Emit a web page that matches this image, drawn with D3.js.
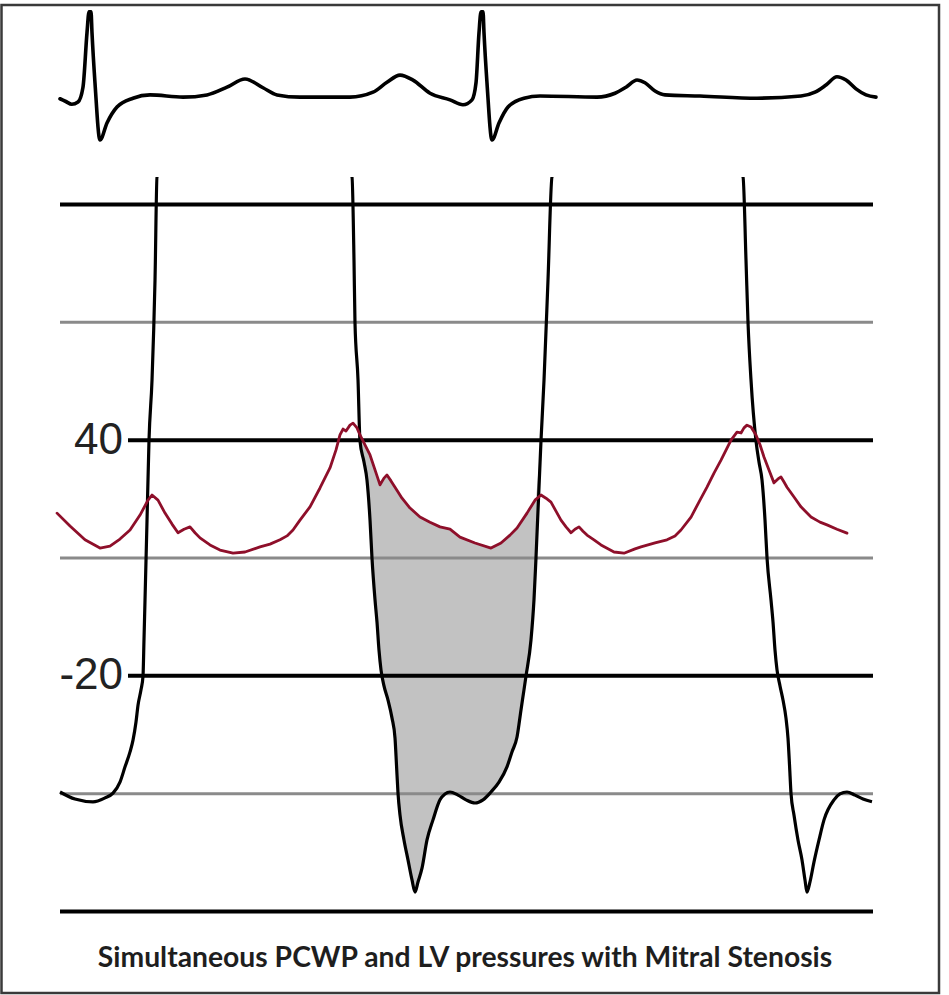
<!DOCTYPE html>
<html><head><meta charset="utf-8">
<script src="https://cdn.jsdelivr.net/npm/d3@7"></script>
<style>body{margin:0;background:#fff}</style>
</head><body><svg id="c" width="949" height="995"></svg>
<script>
// ---- data (time in ms, pressure in mmHg, ECG in mV) ----
const gridValues = [100, 70, 40, 10, -20, -50, -80];
const tickValues = [40, -20];
const tickLabels = ["40", "-20"];
const title = "Simultaneous PCWP and LV pressures with Mitral Stenosis";

const ecg = [
  [0,-0.05],[12,-0.1],[24,-0.15],[36.7,-0.11],[46.9,0.16],[55.1,1.15],[59.2,1.53],[63.3,1.53],[65.3,1.15],
  [71.4,0.24],[81.6,-0.8],[95.9,-0.49],[116.3,-0.2],[149,-0.04],[183.7,0.02],[251,-0.02],[300,0.02],
  [340.8,0.16],[377.6,0.31],[414.3,0.15],[442.9,0.02],[489.8,-0.02],[591.8,-0.02],[638.8,0.07],
  [667.3,0.25],[693.9,0.38],[720.4,0.29],[755.1,0.05],[795.9,-0.07],[822.4,-0.16],[840.8,-0.07],
  [849,0.24],[855.1,1.15],[859.2,1.53],[863.3,1.53],[865.3,1.15],[871.4,0.24],[881.6,-0.8],
  [895.9,-0.49],[914.3,-0.2],[946.9,-0.04],[979.6,0],[1095.9,-0.02],[1132.7,0.05],[1155.1,0.16],
  [1177.6,0.29],[1193.9,0.24],[1214.3,0.09],[1234.7,0.02],[1306.1,0],[1422.4,-0.04],[1512.2,0],
  [1540.8,0.07],[1563.3,0.2],[1585.7,0.35],[1604.1,0.29],[1624.5,0.13],[1644.9,0.02],[1665.3,-0.02]
];

const lv = [
  [0,-49.7],[30.6,-51.5],[67.3,-52.2],[91.8,-51.2],[108.2,-50],[122.4,-47.2],[132.7,-43.3],[142.9,-39.5],
  [149,-36.5],[155.1,-31.9],[159.2,-27.6],[165.3,-23.7],[169.4,-20.2],[171.4,-11],[173.5,-0.8],
  [177.6,19.5],[181.6,39.7],[187.8,55.2],[193.9,80.6],[198,106.9],[398,135],
  [595.9,106.9],[600,85.7],[602,69.9],[608.2,55.2],[612.2,39.7],[620.4,34.3],[626.5,29.7],[632.7,19.5],
  [636.7,9.9],[642.9,-0.8],[646.9,-6.4],[651,-13.6],[655.1,-18.6],[661.2,-22.7],[669.4,-26.3],
  [677.6,-30.9],[683.7,-36],[686.7,-42.8],[689.8,-50],[693.9,-55.6],[702,-61.9],[710.2,-67],[718.4,-72.1],
  [724.5,-75.2],[730.6,-72.6],[738.8,-69.1],[749,-61.9],[761.2,-56.8],[775.5,-51.7],[785.7,-50.2],
  [795.9,-49.7],[812.2,-50.5],[828.6,-51.7],[846.9,-52.5],[863.3,-51.7],[879.6,-49.7],[895.9,-47.2],
  [912.2,-43.3],[922.4,-39.5],[932.7,-35.7],[940.8,-28.8],[946.9,-23.7],[951,-20.2],[961.2,-11],
  [967.3,-0.8],[971.4,9.9],[981.6,39.7],[987.8,55.2],[995.9,80.6],[1004.1,106.9],[1200,135],
  [1393.9,106.9],[1400,85.7],[1404.1,69.9],[1410.2,55.2],[1420.4,39.7],[1426.5,34.3],[1432.7,29.7],
  [1438.8,19.5],[1442.9,9.9],[1451,-0.8],[1455.1,-6.4],[1459.2,-13.6],[1463.3,-18.6],[1469.4,-22.7],
  [1475.5,-26.3],[1481.6,-30.9],[1485.7,-36],[1488.8,-42.8],[1491.8,-50],[1498,-55.6],[1506.1,-61.9],
  [1514.3,-67],[1520.4,-72.1],[1524.5,-75.2],[1530.6,-72.6],[1538.8,-67.5],[1549,-61.9],[1559.2,-56.8],
  [1579.6,-51.7],[1591.8,-50.2],[1606.1,-49.7],[1622.4,-50.5],[1638.8,-51.5],[1657.1,-52.2]
];

const pcwp = [
  [-6.1,21.3],[20.4,18.0],[51,14.5],[81.6,12.4],[102,12.9],[122.4,14.7],[142.9,17.0],[163.3,20.8],
  [179.6,24.6],[187.8,25.9],[200,24.6],[214.3,21.3],[228.6,18.5],[240.8,16.3],[253.1,17.2],[265.3,17.8],
  [275.5,16.3],[285.7,15.0],[306.1,13.2],[326.5,11.9],[353.1,11.1],[377.6,11.4],[408.2,12.7],
  [428.6,13.4],[449,14.5],[463.3,15.5],[475.5,17.0],[489.8,19.5],[510.2,22.9],[530.6,27.7],
  [551,32.8],[563.3,37.4],[571.4,41.2],[577.6,42.7],[583.7,42.2],[591.8,43.7],[598,44.2],[606.1,43.0],
  [612.2,41.2],[622.4,38.7],[632.7,36.1],[642.9,32.3],[653.1,28.5],[661.2,30.2],[667.3,31.0],
  [675.5,29.5],[683.7,27.9],[698,25.1],[714.3,22.6],[734.7,20.3],[755.1,19.0],[775.5,17.8],
  [795.9,17.2],[816.3,15.2],[846.9,13.7],[879.6,12.4],[900,13.7],[918.4,15.7],[932.7,17.5],
  [953.1,21.3],[969.4,24.6],[981.6,25.9],[991.8,25.1],[1002,24.1],[1012.2,21.8],[1022.4,19.5],
  [1032.7,17.8],[1042.9,16.3],[1051,17.2],[1059.2,17.8],[1067.3,16.7],[1075.5,15.7],[1089.8,14.5],
  [1104.1,13.2],[1130.6,11.4],[1151,11.1],[1173.5,12.2],[1185.7,12.7],[1214.3,13.7],[1238.8,14.5],
  [1255.1,15.5],[1267.3,17.0],[1287.8,20.3],[1306.1,24.6],[1320.4,27.9],[1334.7,31.5],[1349,34.8],
  [1369.4,39.9],[1381.6,41.9],[1389.8,41.7],[1395.9,43.0],[1402,43.7],[1410.2,43.2],[1420.4,41.2],
  [1428.6,38.7],[1436.7,35.6],[1446.9,32.3],[1457.1,29.0],[1465.3,30.0],[1471.4,30.5],[1477.6,29.2],
  [1483.7,27.9],[1498,25.4],[1512.2,22.9],[1532.7,20.3],[1551,19.0],[1565.3,18.3],[1585.7,17.2],
  [1606.1,16.2]
];

// ---- scales ----
const svg = d3.select("#c");
const x = d3.scaleLinear().domain([0, 1660]).range([60, 873.4]);
const y = d3.scaleLinear().domain([-80, 100]).range([911, 204]);
const ye = d3.scaleLinear().domain([0, 1]).range([96, 41]);
const left = 60, right = 873;

// frame
svg.append("rect").attr("x", 1.5).attr("y", 5).attr("width", 937.5).attr("height", 988)
  .attr("fill", "#fff").attr("stroke", "#3a3a3a").attr("stroke-width", 2.5);

// ECG
svg.append("path").datum(ecg)
  .attr("d", d3.line().x(d => x(d[0])).y(d => ye(d[1])).curve(d3.curveMonotoneX))
  .attr("fill", "none").attr("stroke", "#000").attr("stroke-width", 3.6)
  .attr("stroke-linejoin", "round").attr("stroke-linecap", "round");

// fill between PCWP and LV where LV < PCWP (diastolic gradient)
function interp(arr, t) {
  const i = d3.bisector(d => d[0]).right(arr, t);
  if (i <= 0) return arr[0][1];
  if (i >= arr.length) return arr[arr.length - 1][1];
  const a = arr[i - 1], b = arr[i];
  return a[1] + (b[1] - a[1]) * (t - a[0]) / (b[0] - a[0]);
}
const fillTimes = Array.from(new Set(
  lv.map(d => d[0]).concat(pcwp.map(d => d[0])).filter(t => t >= 600 && t <= 995)
)).sort((a, b) => a - b);
const fillData = fillTimes.map(t => {
  const l = interp(lv, t), p = interp(pcwp, t);
  return { t, lo: l, hi: Math.max(l, p) };
});
svg.append("path").datum(fillData)
  .attr("d", d3.area().x(d => x(d.t)).y0(d => y(d.lo)).y1(d => y(d.hi)).curve(d3.curveLinear))
  .attr("fill", "#c2c2c2");

// grid lines via axis
const grid = svg.append("g").attr("transform", `translate(${right},0)`)
  .call(d3.axisLeft(y).tickValues(gridValues).tickSize(right - left).tickFormat(""));
grid.select(".domain").remove();
grid.selectAll(".tick line")
  .attr("stroke", (d, i) => i % 2 === 0 ? "#000" : "#8a8a8a")
  .attr("stroke-width", (d, i) => i % 2 === 0 ? 4 : 3)
  .attr("x2", d => tickValues.includes(d) ? -(right - 128) : -(right - left));

// tick labels
tickValues.forEach((v, i) => {
  svg.append("text").attr("x", 123).attr("y", y(v) + 14)
    .attr("text-anchor", "end")
    .attr("font-family", "Liberation Sans, Arial, sans-serif")
    .attr("font-size", 44).attr("fill", "#222")
    .text(tickLabels[i]);
});

// LV pressure (clipped at top)
svg.append("clipPath").attr("id", "clipLV").append("rect")
  .attr("x", 0).attr("y", 177).attr("width", 949).attr("height", 818);
svg.append("path").datum(lv).attr("clip-path", "url(#clipLV)")
  .attr("d", d3.line().x(d => x(d[0])).y(d => y(d[1])).curve(d3.curveMonotoneX))
  .attr("fill", "none").attr("stroke", "#000").attr("stroke-width", 3.2)
  .attr("stroke-linejoin", "round");

// PCWP
svg.append("path").datum(pcwp)
  .attr("d", d3.line().x(d => x(d[0])).y(d => y(d[1])).curve(d3.curveLinear))
  .attr("fill", "none").attr("stroke", "#8e0f2a").attr("stroke-width", 2.8)
  .attr("stroke-linejoin", "round").attr("stroke-linecap", "round");

// title
const tt = svg.append("text").attr("x", 465).attr("y", 967).attr("text-anchor", "middle")
  .attr("font-family", "Lato, Open Sans, sans-serif").attr("font-weight", 700)
  .attr("font-size", 26).attr("fill", "#1e1e1e").text(title);
const w = tt.node().getComputedTextLength();
tt.attr("font-size", 26 * 735 / w);
</script></body></html>
